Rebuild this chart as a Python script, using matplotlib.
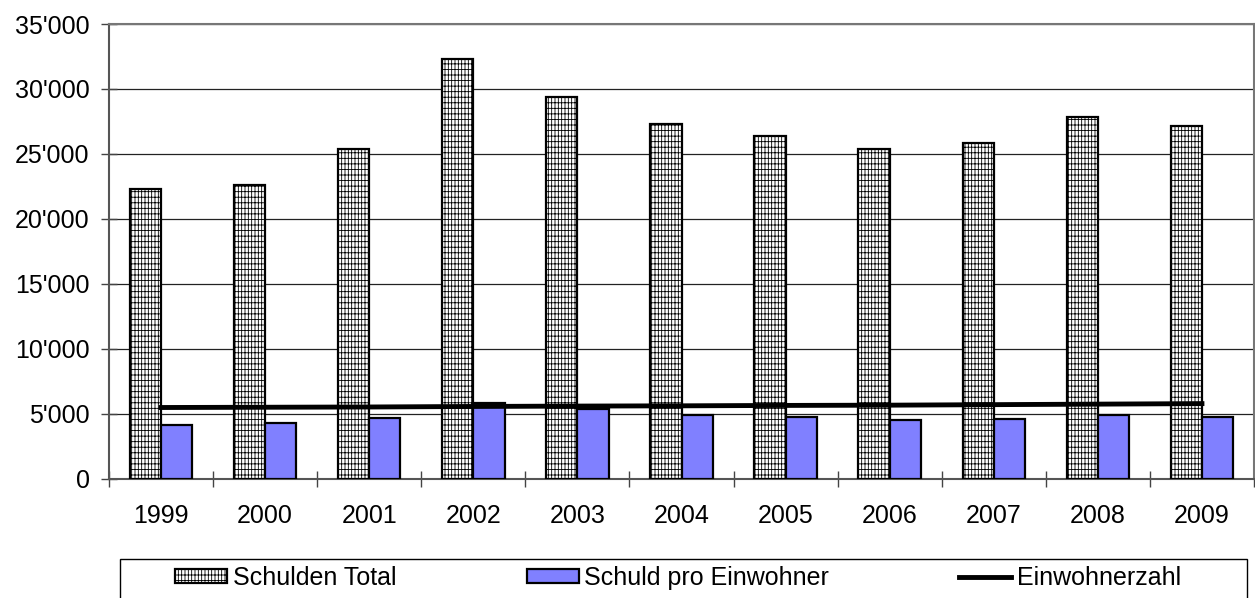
import numpy as np
import matplotlib
matplotlib.use('Agg')
import matplotlib.pyplot as plt
from matplotlib.ticker import FuncFormatter, FixedLocator
from matplotlib.patches import Rectangle

plt.rcParams['font.family'] = ['Liberation Sans', 'DejaVu Sans']
plt.rcParams['hatch.linewidth'] = 0.6
plt.rcParams['hatch.color'] = '#555555'

years = ['1999', '2000', '2001', '2002', '2003', '2004', '2005', '2006', '2007', '2008', '2009']
schulden_total = [22300, 22600, 25400, 32300, 29400, 27300, 26400, 25400, 25850, 27850, 27150]
schuld_pro_einw = [4170, 4250, 4700, 5850, 5330, 4920, 4730, 4540, 4610, 4940, 4780]
einwohnerzahl = [5480, 5500, 5520, 5560, 5590, 5610, 5640, 5660, 5700, 5740, 5780]

fig = plt.figure(figsize=(12.55, 5.98), dpi=100)
ax = fig.add_axes([109/1255, 119.3/598, 1145/1255, 454.7/598])

x = np.arange(len(years))
w = 0.3
b1 = ax.bar(x - w/2, schulden_total, w, color='white', edgecolor='black', linewidth=1.6,
            hatch='|||||---', zorder=3, label='Schulden Total')
b2 = ax.bar(x + w/2, schuld_pro_einw, w, color='#8080ff', edgecolor='black', linewidth=1.6,
            zorder=3, label='Schuld pro Einwohner')
l1, = ax.plot(x, einwohnerzahl, color='black', linewidth=3.5, zorder=4, label='Einwohnerzahl')

ax.set_xlim(-0.5, len(years) - 0.5)
ax.set_ylim(0, 35000)
ax.set_yticks(np.arange(0, 35001, 5000))
ax.yaxis.set_major_formatter(FuncFormatter(lambda v, p: '{:,}'.format(int(v)).replace(',', "'")))
ax.yaxis.grid(True, color='#222222', linewidth=0.9, zorder=0)
ax.set_axisbelow(True)

ax.set_xticks(x)
ax.set_xticklabels(years)
ax.xaxis.set_minor_locator(FixedLocator(np.arange(-0.5, len(years), 1.0)))
ax.tick_params(axis='x', which='major', length=0, pad=18, labelsize=18)
ax.tick_params(axis='x', which='minor', direction='inout', length=12, width=1, color='#444444')
ax.tick_params(axis='y', direction='inout', length=12, width=1, color='#444444', pad=8, labelsize=18)

for s in ['left', 'bottom', 'right', 'top']:
    ax.spines[s].set_color('#777777')
    ax.spines[s].set_linewidth(1.5)
ax.spines['left'].set_color('#555555')
ax.spines['bottom'].set_color('#555555')

# legend box, runs off the bottom of the picture
fig.patches.append(Rectangle((120/1255, -0.05), 1127/1255, 0.05 + 39/598, transform=fig.transFigure,
                             facecolor='white', edgecolor='black', linewidth=1))
fig.legend([b1, b2, l1], ['Schulden Total', 'Schuld pro Einwohner', 'Einwohnerzahl'],
           loc='center left', bbox_to_anchor=(175/1255, 20/598), ncol=3,
           frameon=False, fontsize=18, handlelength=2.08, handleheight=0.5, handletextpad=0.24,
           columnspacing=5.2, borderpad=0, borderaxespad=0)

fig.savefig('out.png', dpi=100)
